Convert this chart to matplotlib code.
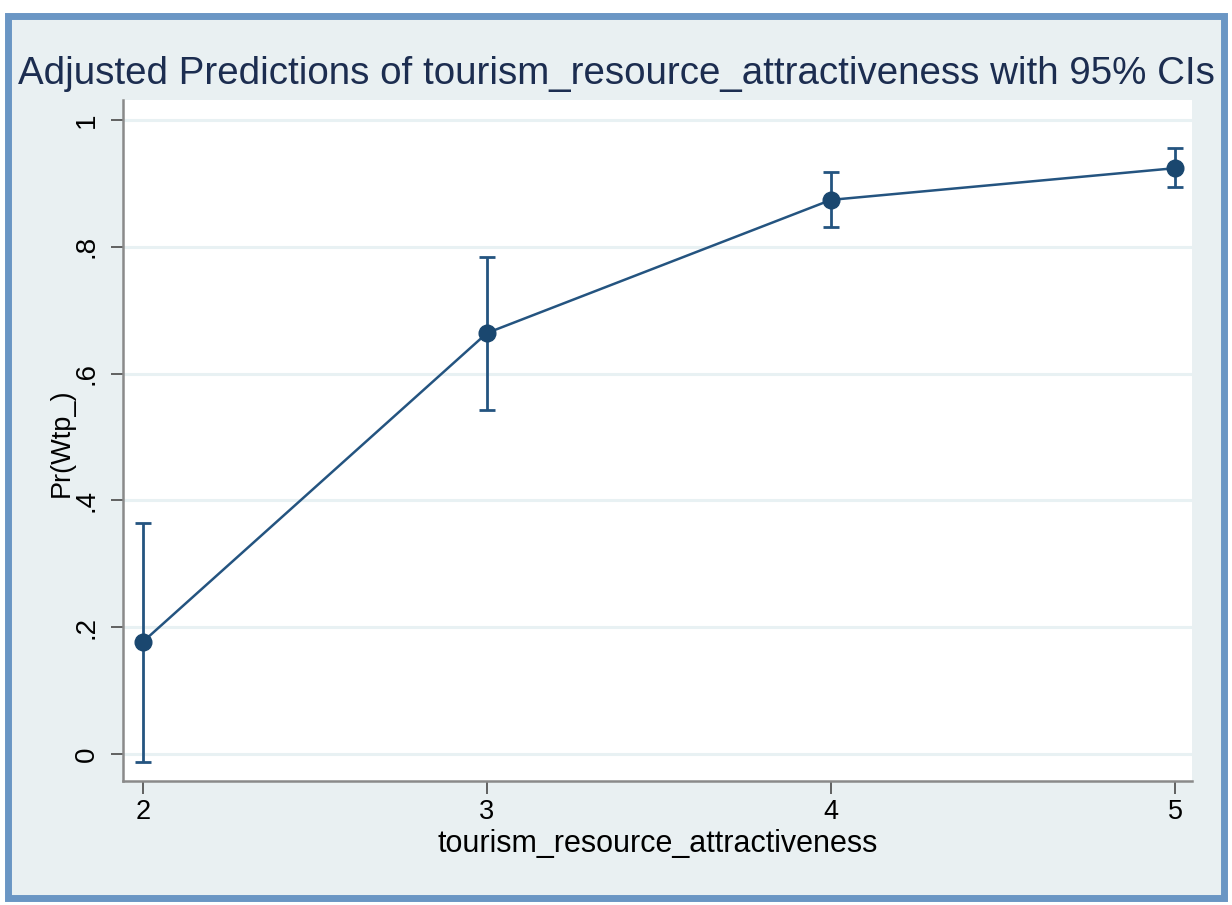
import matplotlib.pyplot as plt
from matplotlib.patches import Rectangle

# predicted probabilities with 95% confidence limits
levels = [2, 3, 4, 5]
margin = [0.177, 0.664, 0.874, 0.924]
ci_low = [-0.013, 0.543, 0.831, 0.894]
ci_high = [0.364, 0.784, 0.918, 0.956]
yticks = [0, 0.2, 0.4, 0.6, 0.8, 1.0]
ytick_labels = ["0", ".2", ".4", ".6", ".8", "1"]

navy = "#1a476f"
bg = "#e9f0f2"

plt.rcParams['font.family'] = ['Liberation Sans', 'DejaVu Sans']

fig = plt.figure(figsize=(12.32, 9.05), dpi=100)
fig.patch.set_facecolor("white")

# outer graph region with blue frame, kept behind the axes
fig.patches.append(Rectangle((8 / 1232, 1 - 898 / 905), 1216 / 1232, 882 / 905,
                             transform=fig.transFigure, facecolor=bg,
                             edgecolor="#6a96c4", linewidth=5, zorder=-10))

ax = fig.add_axes([123 / 1232, 1 - 781 / 905, 1069 / 1232, 681 / 905])
ax.set_facecolor("white")

err_lo = [m - lo for m, lo in zip(margin, ci_low)]
err_hi = [hi - m for m, hi in zip(margin, ci_high)]
ax.errorbar(levels, margin, yerr=[err_lo, err_hi], fmt="none", ecolor="#245480",
            elinewidth=2, capsize=6, capthick=2, zorder=2)
ax.plot(levels, margin, color="#245480", linewidth=1.8, marker="o",
        markersize=12, markerfacecolor=navy, markeredgecolor=navy, zorder=3)

ax.set_xlim(1.942, 5.049)
ax.set_ylim(-0.0426, 1.0315)
ax.set_xticks(levels)
ax.set_yticks(yticks)
ax.set_yticklabels(ytick_labels, rotation=90, va="center")

ax.grid(axis="y", color="#e8f1f3", linewidth=2.2)
ax.set_axisbelow(True)
for side in ["top", "right"]:
    ax.spines[side].set_visible(False)
for side in ["left", "bottom"]:
    ax.spines[side].set_color("#8a8a8a")
    ax.spines[side].set_linewidth(1.8)

ax.tick_params(axis="both", colors="#555555", length=9, width=1.3,
               labelcolor="black")
ax.tick_params(axis="y", pad=8, labelsize=20)
ax.tick_params(axis="x", pad=4, labelsize=19.5)

ax.set_xlabel("tourism_resource_attractiveness", fontsize=22, labelpad=3)
ax.set_ylabel("Pr(Wtp_)", fontsize=19.5)
ax.yaxis.set_label_coords(-48 / 1069, 0.496)

fig.text(0.5, 1 - 74 / 905, "Adjusted Predictions of tourism_resource_attractiveness with 95% CIs",
         ha="center", va="center", fontsize=27.7, color="#1c2d50")

fig.savefig("out.png", dpi=100)
